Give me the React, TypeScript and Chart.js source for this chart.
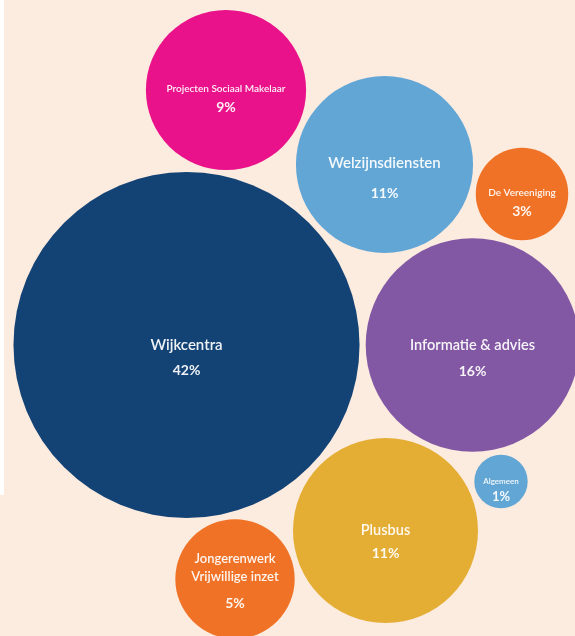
import React, { useEffect, useRef } from "react";
import { Chart, registerables } from "chart.js";

Chart.register(...registerables);

// ---- Data ----
const categories: string[][] = [
  ["Wijkcentra"],
  ["Informatie & advies"],
  ["Welzijnsdiensten"],
  ["Plusbus"],
  ["Projecten Sociaal Makelaar"],
  ["Jongerenwerk", "Vrijwillige inzet"],
  ["De Vereeniging"],
  ["Algemeen"],
];
// percentages printed in the bubbles
const percentages = [42, 16, 11, 11, 9, 5, 3, 1];
// underlying (unrounded) shares that set each bubble's area
const bubbleValues = [42, 16, 11, 12, 9, 5, 3, 1];
// bubble centres in the layout's coordinate space
const xPositions = [186.5, 472.5, 384.5, 385.5, 226, 235, 522, 501];
const yPositions = [345, 345, 164.5, 530.5, 90, 579, 194, 481.5];

// ---- Styles ----
const colors = ["#134375", "#8258a4", "#62a6d6", "#e4ae34", "#e9128a", "#f07226", "#f07226", "#62a6d6"];
const labelSizes = [15, 14.5, 15, 14.5, 10, 13, 10, 8];
const pctSizes = [14, 14, 14, 14, 14, 14, 14, 13];
const labelOffsets = [0, 0, -1, 0, -1, -20, -1, 0];
const lineHeights = [0, 0, 0, 0, 0, 18, 0, 0];
const pctOffsets = [25, 26, 29, 23, 17, 24, 17, 15];
const RADIUS_SCALE = 26.7; // px per sqrt(percent)

const W = 575;
const H = 636;
const FONT = "Lato, 'Noto Sans', sans-serif";

const labelPlugin = {
  id: "bubbleLabels",
  afterDatasetsDraw(chart: any) {
    const ctx = chart.ctx;
    const meta = chart.getDatasetMeta(0);
    ctx.save();
    ctx.fillStyle = "rgba(255,255,255,0.93)";
    ctx.textAlign = "center";
    ctx.textBaseline = "middle";
    meta.data.forEach((el: any, i: number) => {
      const lines = categories[i];
      ctx.font = `600 ${labelSizes[i]}px ${FONT}`;
      lines.forEach((line, j) => {
        ctx.fillText(line, el.x, el.y + labelOffsets[i] + j * lineHeights[i]);
      });
      ctx.font = `700 ${pctSizes[i]}px ${FONT}`;
      ctx.fillText(`${percentages[i]}%`, el.x, el.y + pctOffsets[i]);
    });
    ctx.restore();
  },
};

export default function App() {
  const canvasRef = useRef<HTMLCanvasElement | null>(null);

  useEffect(() => {
    if (!canvasRef.current) return;
    const chart = new Chart(canvasRef.current, {
      type: "bubble",
      data: {
        datasets: [
          {
            data: bubbleValues.map((v, i) => ({
              x: xPositions[i],
              y: yPositions[i],
              r: RADIUS_SCALE * Math.sqrt(v),
            })),
            backgroundColor: colors,
            hoverBackgroundColor: colors,
            borderWidth: 0,
            hoverBorderWidth: 0,
            hoverRadius: 0,
            clip: false as any,
          },
        ],
      },
      options: {
        animation: false,
        responsive: false,
        events: [],
        layout: { padding: 0, autoPadding: false },
        plugins: {
          legend: { display: false },
          tooltip: { enabled: false },
        },
        scales: {
          x: { type: "linear", min: 0, max: W, display: false },
          y: { type: "linear", min: 0, max: H, reverse: true, display: false },
        },
      },
      plugins: [labelPlugin],
    });
    return () => chart.destroy();
  }, []);

  return (
    <div
      style={{
        position: "fixed",
        left: 0,
        top: 0,
        width: W,
        height: H,
        background: "#fcebdf",
        overflow: "hidden",
      }}
    >
      <div
        style={{
          position: "absolute",
          left: 0,
          top: 0,
          width: 4,
          height: 495,
          background: "#ffffff",
        }}
      />
      <canvas
        ref={canvasRef}
        width={W}
        height={H}
        style={{ position: "absolute", left: 0, top: 0, width: W, height: H }}
      />
    </div>
  );
}
